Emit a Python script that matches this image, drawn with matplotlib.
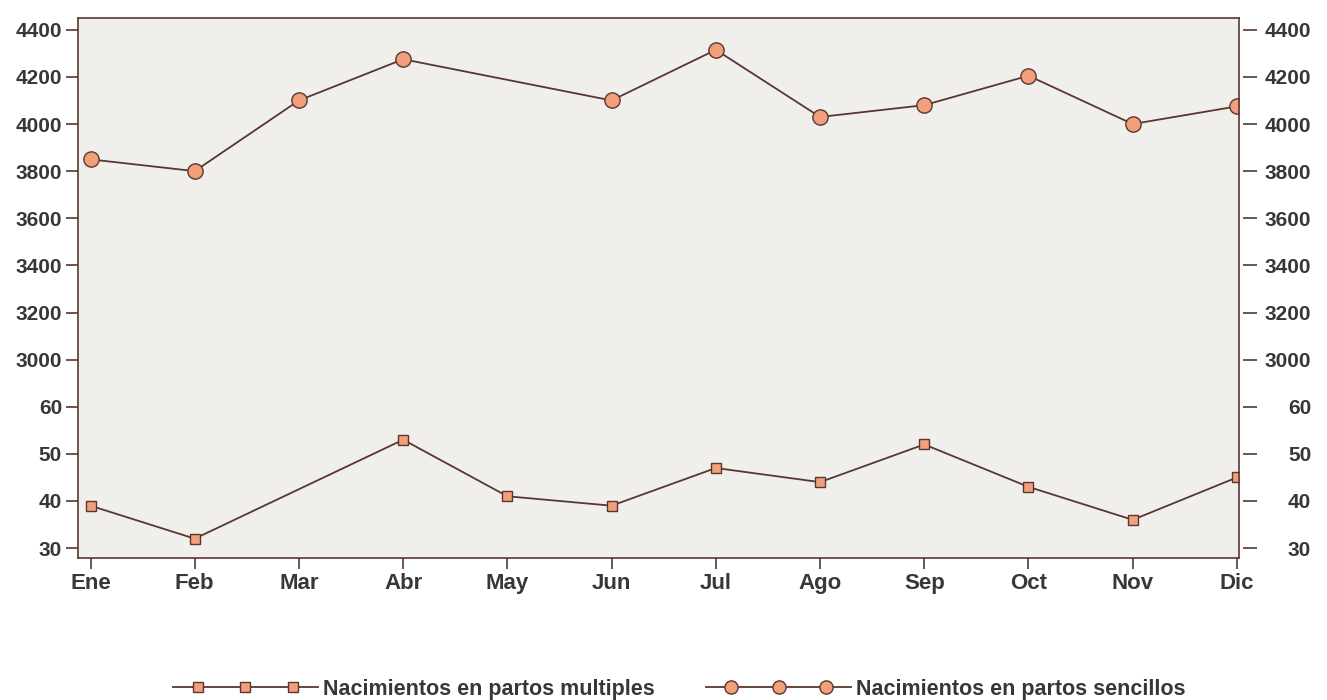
"""Nacimientos por mes: partos multiples y sencillos sobre un eje Y partido."""

import matplotlib

matplotlib.use("Agg")

import matplotlib.pyplot as plt
import numpy as np
from matplotlib.legend_handler import HandlerLine2D, HandlerTuple
from matplotlib.lines import Line2D

months = ["Ene", "Feb", "Mar", "Abr", "May", "Jun", "Jul", "Ago", "Sep", "Oct", "Nov", "Dic"]
# None = sin dato en el original (la linea une los puntos vecinos)
multiples = [39, 32, None, 53, 41, 39, 47, 44, 52, 43, 36, 45]
sencillos = [3850, 3800, 4100, 4275, None, 4100, 4315, 4030, 4080, 4205, 4000, 4075]
low_ticks = [30, 40, 50, 60]
high_ticks = [3000, 3200, 3400, 3600, 3800, 4000, 4200, 4400]
series_labels = ["Nacimientos en partos multiples", "Nacimientos en partos sencillos"]

LINE = "#5a3630"
FACE = "#f2a07c"
TEXT = "#3a3636"


def to_pos(v):
    """Map a value onto the broken axis: 30-60 below, 3000-4400 above."""
    v = np.asarray(v, dtype=float)
    return np.where(v < 1000, (v - 30) / 10.0, 4 + (v - 3000) / 200.0)


def series(values):
    x = [i for i, v in enumerate(values) if v is not None]
    y = to_pos([v for v in values if v is not None])
    return x, y


plt.rcParams["font.family"] = ["Liberation Sans", "DejaVu Sans"]
plt.rcParams["font.weight"] = "bold"

fig = plt.figure(figsize=(13.27, 7.0), dpi=100)
ax = fig.add_axes([78 / 1327, (700 - 558) / 700, (1239 - 78) / 1327, (558 - 18) / 700])
ax.set_facecolor("#f0efeb")

xm, ym = series(multiples)
ax.plot(xm, ym, color=LINE, lw=1.3, marker="s", ms=7.5, mfc=FACE, mec=LINE, mew=1.0)
xs, ys = series(sencillos)
ax.plot(xs, ys, color=LINE, lw=1.3, marker="o", ms=11, mfc=FACE, mec=LINE, mew=1.0)

ax.set_xlim(-0.12, 11.02)
ax.set_ylim(-0.21, 11.25)
ax.set_xticks(range(len(months)))
ax.set_xticklabels(months, fontsize=16)

yt = list(low_ticks) + list(high_ticks)
ax.set_yticks(to_pos(yt))
ax.set_yticklabels([str(t) for t in yt])

for s in ax.spines.values():
    s.set_color(LINE)
    s.set_linewidth(1.2)

ax.tick_params(axis="both", colors=TEXT, width=1.2, direction="out")
ax.tick_params(axis="y", labelsize=15, length=8.5, pad=3, color=LINE)
ax.tick_params(axis="x", length=8, pad=3, color=LINE)

ax2 = ax.twinx()
ax2.set_ylim(ax.get_ylim())
ax2.set_yticks(to_pos(yt))
ax2.set_yticklabels([str(t) for t in yt])
ax2.spines["right"].set_position(("outward", 3))
for s in ax2.spines.values():
    s.set_visible(False)
ax2.tick_params(axis="y", colors=TEXT, labelsize=15, length=10, width=1.2, pad=39, color=LINE)
for lab in ax2.get_yticklabels():
    lab.set_horizontalalignment("right")

# legend: long line with three markers set in from the ends
handles = []
hmap = {}
for marker, ms in (("s", 6.5), ("o", 9.5)):
    ln = Line2D([], [], color=LINE, lw=1.3)
    mk = Line2D([], [], ls="none", marker=marker, ms=ms, mfc=FACE, mec=LINE, mew=1.0)
    hmap[ln] = HandlerLine2D(marker_pad=0)
    hmap[mk] = HandlerLine2D(marker_pad=1.15)
    handles.append((ln, mk))
hmap[tuple] = HandlerTuple(ndivide=1, pad=0)

leg = fig.legend(handles, series_labels, handler_map=hmap, loc="lower center",
                 bbox_to_anchor=(0.512, -0.027), ncol=2, frameon=False, numpoints=3,
                 handlelength=6.7, handletextpad=0.25, columnspacing=2.4,
                 prop={"size": 15.5, "weight": "bold"})
for t in leg.get_texts():
    t.set_color(TEXT)

fig.savefig("out.png", dpi=100, facecolor="white")
